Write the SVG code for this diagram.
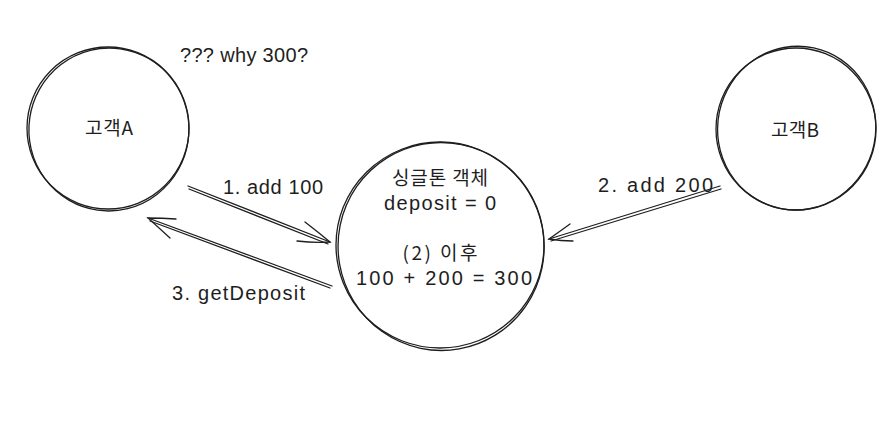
<svg xmlns="http://www.w3.org/2000/svg" width="896" height="442" viewBox="0 0 896 442">
<style>
.c{fill:none;stroke:#1e1e1e;stroke-width:1.3;stroke-linecap:round}
.t{font-family:"Liberation Sans","Noto Sans CJK KR",sans-serif;font-size:20px;fill:#1e1e1e}
.k{font-family:"Noto Sans CJK KR","Liberation Sans",sans-serif;font-size:19px;fill:#1e1e1e}
.m{text-anchor:middle}
</style>
<rect width="896" height="442" fill="#ffffff"/>
<g id="customerA">
<ellipse class="c" cx="108" cy="128" rx="81" ry="81"/>
<ellipse class="c" cx="109" cy="129.5" rx="80" ry="81.5" transform="rotate(8 109 129)"/>
<text class="k m" x="109" y="135" textLength="48">고객A</text>
</g>
<g id="singleton">
<ellipse class="c" cx="440" cy="245" rx="104" ry="103"/>
<ellipse class="c" cx="441" cy="246.5" rx="103" ry="104" transform="rotate(-10 441 246)"/>
<text class="k m" x="440" y="185" textLength="96">싱글톤 객체</text>
<text class="t m" x="440" y="210" textLength="112">deposit = 0</text>
<text class="k m" x="440" y="260" textLength="75">(2) 이후</text>
<text class="t m" x="444" y="285" textLength="176">100 + 200 = 300</text>
</g>
<g id="customerB">
<ellipse class="c" cx="796" cy="129" rx="80" ry="81"/>
<ellipse class="c" cx="796.5" cy="128" rx="79" ry="82" transform="rotate(12 796 129)"/>
<text class="k m" x="795" y="137" textLength="48">고객B</text>
</g>
<g id="note">
<text class="t" x="180" y="62" textLength="128">??? why 300?</text>
</g>
<g id="connectors">
<path class="c" d="M188 186 L330 242 M189 189 L328 244"/>
<path class="c" d="M305 222 Q318 232 330 242 Q314 243 297 241"/>
<path class="c" d="M332 286 L148 218 M330 288 L150 221"/>
<path class="c" d="M176 219 Q162 218 148 218 Q159 228 170 238"/>
<path class="c" d="M720 186 L549 239 M721 189 L551 241"/>
<path class="c" d="M570 224 Q559 232 549 239 Q561 241 573 241"/>
<text class="t" x="223" y="194" textLength="100">1. add 100</text>
<text class="t" x="172" y="300" textLength="133">3. getDeposit</text>
<text class="t" x="598" y="192" textLength="115">2. add 200</text>
</g>
</svg>
